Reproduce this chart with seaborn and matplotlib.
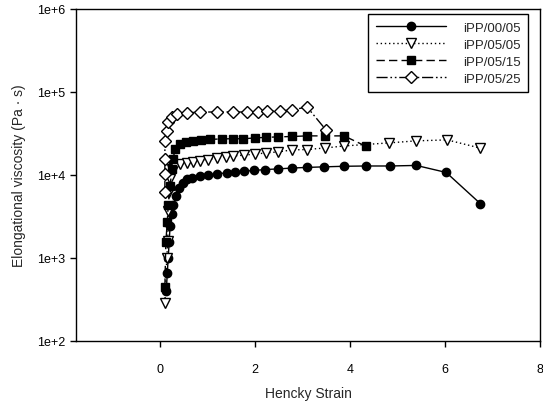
import matplotlib
matplotlib.use("Agg")
import matplotlib.pyplot as plt
import seaborn as sns
import pandas as pd
from matplotlib.ticker import FixedLocator, FixedFormatter, NullLocator

# ---- data ----
labels = ["iPP/00/05", "iPP/05/05", "iPP/05/15", "iPP/05/25"]

strain1 = [0.13, 0.15, 0.17, 0.19, 0.21, 0.24, 0.28, 0.33, 0.40, 0.48, 0.57, 0.68, 0.84, 1.00,
           1.20, 1.40, 1.58, 1.77, 1.98, 2.21, 2.48, 2.78, 3.09, 3.45, 3.87, 4.34, 4.84, 5.39, 6.02, 6.74]
visc1 = [400, 650, 1000, 1550, 2450, 3400, 4300, 5600, 7000, 7900, 8800, 9300, 9700, 10000,
         10300, 10600, 10900, 11100, 11300, 11600, 11800, 12100, 12300, 12500, 12700, 12800, 12800, 13000, 10700, 4500]

strain2 = [0.10, 0.14, 0.16, 0.17, 0.19, 0.21, 0.25, 0.32, 0.42, 0.57, 0.70, 0.84, 1.00, 1.20,
           1.38, 1.54, 1.77, 2.00, 2.23, 2.48, 2.78, 3.09, 3.47, 3.87, 4.82, 5.39, 6.04, 6.74]
visc2 = [290, 1000, 1600, 3700, 6300, 8900, 11800, 12800, 13500, 14000, 14400, 14800, 15300, 16000,
         16400, 16900, 17300, 17800, 18400, 18900, 20000, 20200, 21100, 22300, 24300, 25700, 26400, 21000]

strain3 = [0.10, 0.12, 0.15, 0.17, 0.21, 0.25, 0.27, 0.32, 0.42, 0.55, 0.69, 0.85, 1.05, 1.30,
           1.54, 1.75, 2.00, 2.23, 2.48, 2.78, 3.09, 3.47, 3.87, 4.34]
visc3 = [450, 1550, 2700, 4300, 7400, 11800, 15600, 20600, 23600, 24800, 25700, 26300, 26800, 27100,
         27300, 27200, 27900, 28300, 28700, 29000, 29500, 29500, 29500, 22000]

strain4 = [0.10, 0.10, 0.10, 0.10, 0.15, 0.17, 0.25, 0.36, 0.57, 0.84, 1.20, 1.54, 1.83, 2.06,
           2.25, 2.53, 2.78, 3.09, 3.49]
visc4 = [6200, 10300, 15600, 25600, 33900, 43500, 50000, 54300, 55800, 57200, 57200, 57200, 57200, 57500,
         58500, 59000, 60500, 65900, 34800]

ytick_vals = [1e2, 1e3, 1e4, 1e5, 1e6]
ytick_labels = ["1e+2", "1e+3", "1e+4", "1e+5", "1e+6"]
xtick_vals = [0, 2, 4, 6, 8]

# ---- styling ----
sns.set_style("ticks")
plt.rcParams["font.family"] = ["Liberation Sans", "DejaVu Sans"]

fig = plt.figure(figsize=(5.43, 4.10), dpi=100)
ax = fig.add_axes([0.140, 0.166, 0.855, 0.810])

series = [
    (strain1, visc1, dict(marker="o", linestyle="-", mfc="black", ms=6)),
    (strain2, visc2, dict(marker="v", linestyle=(0, (1, 2)), mfc="white", ms=6.5)),
    (strain3, visc3, dict(marker="s", linestyle=(0, (6, 3)), mfc="black", ms=5.5)),
    (strain4, visc4, dict(marker="D", linestyle=(0, (8, 2, 1.2, 2, 1.2, 2)), mfc="white", ms=6)),
]

for (xs, ys, st), lab in zip(series, labels):
    df = pd.DataFrame({"strain": xs, "visc": ys})
    sns.lineplot(data=df, x="strain", y="visc", ax=ax, sort=False, estimator=None,
                 color="black", linewidth=1.0, linestyle=st["linestyle"], marker=st["marker"],
                 markersize=st["ms"], markerfacecolor=st["mfc"],
                 markeredgecolor="black", markeredgewidth=1.0, label=lab)

ax.set_yscale("log")
ax.set_ylim(1e2, 1e6)
ax.set_xlim(-1.77, 8)
ax.yaxis.set_major_locator(FixedLocator(ytick_vals))
ax.yaxis.set_major_formatter(FixedFormatter(ytick_labels))
ax.yaxis.set_minor_locator(NullLocator())
ax.set_xticks(xtick_vals)
ax.tick_params(axis="both", labelsize=9, direction="out", length=4, width=1, colors="black")
ax.tick_params(axis="x", pad=12)
for s in ax.spines.values():
    s.set_visible(True)
    s.set_linewidth(1.0)
    s.set_color("black")

ax.set_xlabel("Hencky Strain", fontsize=10, labelpad=8)
ax.set_ylabel("Elongational viscosity (Pa \u00b7 s)", fontsize=10, labelpad=8)

leg = ax.legend(loc="upper right", fontsize=9.5, frameon=True, fancybox=False,
                edgecolor="black", framealpha=1, handlelength=5.3, numpoints=1,
                borderpad=0.6, labelspacing=0.35, handletextpad=1.3,
                borderaxespad=0, bbox_to_anchor=(0.974, 0.985))
leg.get_frame().set_linewidth(1.0)

fig.savefig("out.png", dpi=100)
